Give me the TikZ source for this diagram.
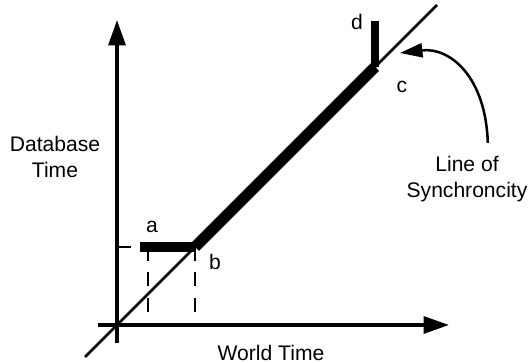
\documentclass[tikz,border=0pt]{standalone}
\usepackage{fontspec}
\setmainfont{Liberation Sans}
\usetikzlibrary{positioning, arrows.meta, calc}

\begin{document}
\begin{tikzpicture}[
  font=\fontsize{15}{18}\selectfont,
  >={Triangle[length=18pt,width=12pt]},
  %% Line styles
  axis/.style={draw=black, line width=2.4pt, ->},
  syncline/.style={draw=black, line width=2pt},
  track/.style={draw=black, line width=7pt},
  guide/.style={draw=black, line width=1.7pt, dash pattern=on 10pt off 8pt},
  pointer/.style={draw=black, line width=1.8pt,
    -{Triangle[length=16pt,width=10pt]}},
  %% Text style
  lbl/.style={inner sep=1pt, align=center},
]
\useasboundingbox (-2.925,-0.95) rectangle (10.35,8.125);

%% ── POINTS ────────────────────────────────────────────────────────────────
\coordinate (O)      at (0,0);
\coordinate (xstart) at (-0.475,0);
\coordinate (xend)   at (8.3,0);
\coordinate (ystart) at (0,-0.45);
\coordinate (yend)   at (0,7.625);
\coordinate (lstart) at (-0.8,-0.8);
\coordinate (lend)   at (8,8);
\coordinate (a)      at (0.775,1.95);
\coordinate (b)      at (1.95,1.95);
\coordinate (c)      at (6.45,6.45);
\coordinate (d)      at (6.45,7.6);
\coordinate (target) at (7.075,6.8);

%% ── AXES AND LINE OF SYNCHRONCITY ─────────────────────────────────────────
\draw[axis] (xstart) -- (xend);
\draw[axis] (ystart) -- (yend);
\draw[syncline] (lstart) -- (lend);

%% ── GUIDES ────────────────────────────────────────────────────────────────
\draw[guide] (a) -- (a |- O);
\draw[guide] (b) -- (b |- O);
\draw[guide, dash pattern=on 10pt off 20pt] (a -| O) -- (a);

%% ── TRACK a → b → c → d ──────────────────────────────────────────────────
\draw[track] ([xshift=-0.2cm]a) -- (b);
\draw[track, line width=8pt] (b) -- (c);
\draw[track, line width=6pt] (c) -- (d);

%% ── LABELS ────────────────────────────────────────────────────────────────
\node[lbl] (alab)   at (0.875,2.45)  {a};
\node[lbl] (blab)   at (2.45,1.575)  {b};
\node[lbl] (clab)   at (7.125,5.95)  {c};
\node[lbl] (dlab)   at (6.0,7.575)   {d};
\node[lbl] (dbtime) at (-1.55,4.2)   {Database\\Time};
\node[lbl] (wtime)  at (3.85,-0.7)   {World Time};
\node[lbl] (sync)   at (8.75,3.65)   {Line of\\Synchroncity};

%% Pointer to the line
\draw[pointer] ([shift={(0.52,0.3)}]sync.north)
  .. controls +(-0.05,1.65) and +(1.25,0.15) .. (target);

\end{tikzpicture}
\end{document}
